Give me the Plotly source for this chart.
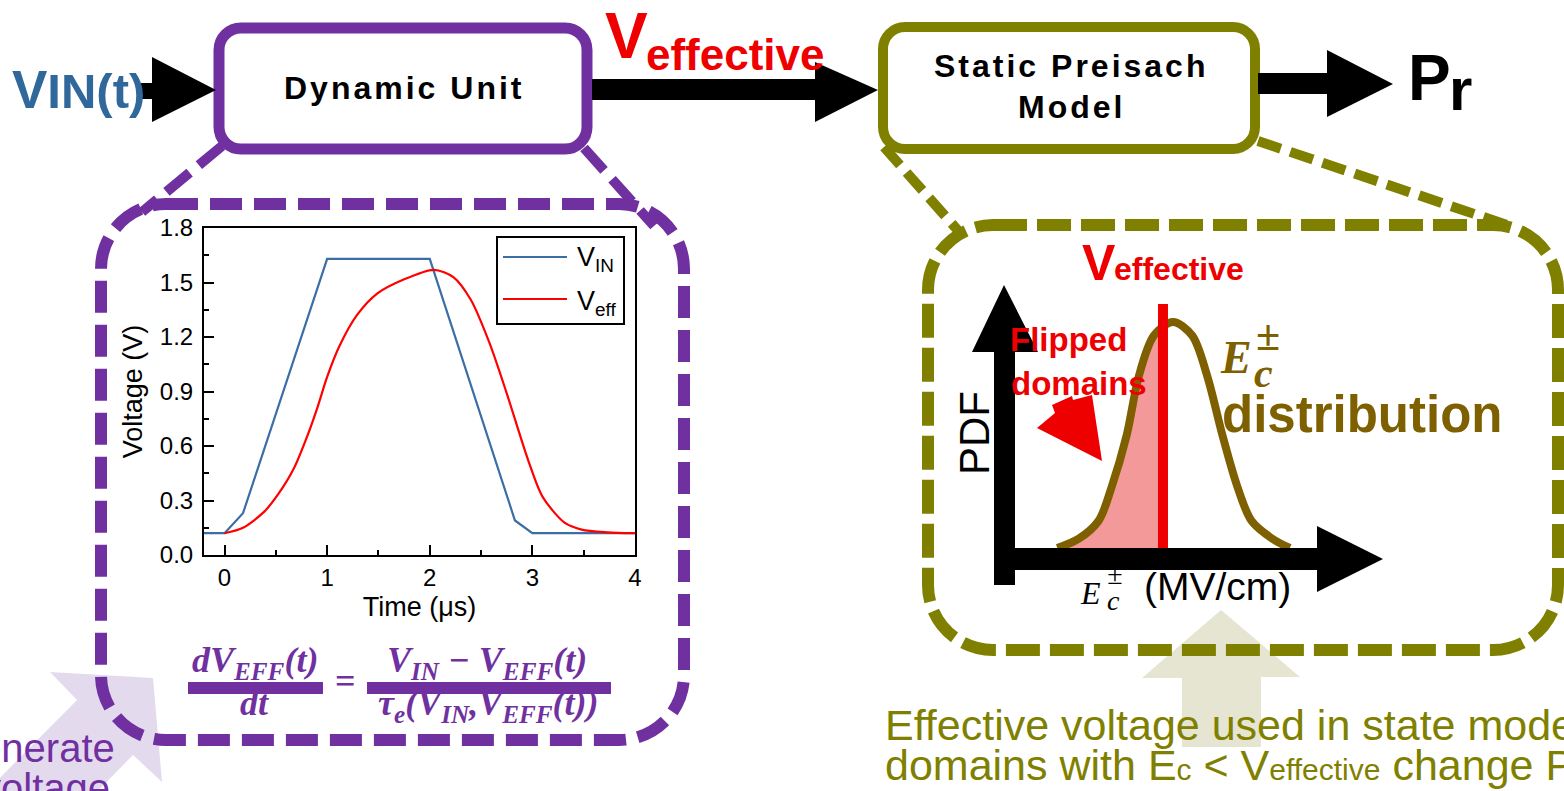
import plotly.graph_objects as go

W, H = 1564, 791

# ---- Dynamic unit inset: input pulse and effective voltage (time in us, volts)
vin_time = [-0.2, 0.0, 0.18, 1.0, 2.0, 2.83, 3.0, 4.0]
vin_volt = [0.12, 0.12, 0.23, 1.63, 1.63, 0.19, 0.12, 0.12]

veff_time = [0.0, 0.18, 0.39, 0.53, 0.67, 0.81, 0.91, 1.0, 1.12, 1.29, 1.49, 1.74,
             2.04, 2.23, 2.40, 2.58, 2.75, 2.96, 3.10, 3.31, 3.48, 3.73, 4.0]
veff_volt = [0.12, 0.15, 0.24, 0.34, 0.47, 0.66, 0.82, 0.98, 1.15, 1.32, 1.44, 1.515,
             1.57, 1.53, 1.405, 1.17, 0.89, 0.52, 0.32, 0.18, 0.14, 0.125, 0.12]

# ---- Static Preisach sketch: coercive-field distribution (arbitrary PDF units)
ec_field = [0.42, 0.63, 0.83, 0.96, 1.11, 1.23, 1.38, 1.57, 1.76, 1.91, 2.06, 2.21, 2.35, 2.56, 2.73]
ec_pdf = [0.0, 0.04, 0.12, 0.27, 0.50, 0.76, 0.94, 1.00, 0.94, 0.76, 0.50, 0.27, 0.12, 0.04, 0.0]
v_effective_field = 1.47      # position of the V_effective marker on the E axis
v_effective_pdf = 0.97        # distribution height where the marker cuts the curve
marker_span = [-0.045, 1.08]  # vertical extent of the marker line (PDF units)

PURPLE = "#7030A0"
OLIVE = "#808000"
BROWN = "#7F6000"
RED = "#EE0000"
VIN_BLUE = "#31689C"
SANS = "Liberation Sans, Arial, sans-serif"
SERIF = "Liberation Serif, Times New Roman, serif"


def rounded_rect(x0, y0, x1, y1, r):
    k = 0.5523 * r
    return (f"M {x0 + r},{y0} L {x1 - r},{y0} C {x1 - r + k},{y0} {x1},{y0 + r - k} {x1},{y0 + r} "
            f"L {x1},{y1 - r} C {x1},{y1 - r + k} {x1 - r + k},{y1} {x1 - r},{y1} "
            f"L {x0 + r},{y1} C {x0 + r - k},{y1} {x0},{y1 - r + k} {x0},{y1 - r} "
            f"L {x0},{y0 + r} C {x0},{y0 + r - k} {x0 + r - k},{y0} {x0 + r},{y0} Z")


def polygon(pts):
    return "M " + " L ".join(f"{x},{y}" for x, y in pts) + " Z"


shapes = []


def add_path(path, fill=None, color=None, width=0, dash="solid", xref="x", yref="y"):
    shapes.append(dict(type="path", path=path, xref=xref, yref=yref, layer="above",
                       fillcolor=fill or "rgba(0,0,0,0)",
                       line=dict(color=color or "rgba(0,0,0,0)", width=width, dash=dash)))


def add_line(x0, y0, x1, y1, color, width, dash="solid", xref="x", yref="y"):
    shapes.append(dict(type="line", x0=x0, y0=y0, x1=x1, y1=y1, xref=xref, yref=yref,
                       layer="above", line=dict(color=color, width=width, dash=dash)))


annotations = []


def label(s, x, y, size, color="black", family=SANS, weight="normal", style="normal",
          xanchor="left", angle=0):
    annotations.append(dict(text=s, x=x, y=y, xref="x", yref="y", showarrow=False,
                            xanchor=xanchor, yanchor="middle", textangle=angle,
                            borderpad=0, borderwidth=0,
                            font=dict(family=family, size=size, color=color,
                                      weight=weight, style=style)))


def mid(baseline, size, k=0.3465):
    return baseline - k * size


# ---- background call-out arrows
add_path(polygon([(153, 678), (50, 672), (77, 700), (-28, 806), (28, 862), (133, 755), (162, 782)]),
         fill="#E4DAEE")
add_path(polygon([(1221, 610), (1300, 677), (1261, 677), (1261, 747), (1182, 747), (1182, 678), (1142, 678)]),
         fill="#E5E5D2")

# ---- dashed zoom frames and their connectors
add_path(rounded_rect(101, 204, 684, 740, 65), color=PURPLE, width=12, dash="32px,12px")
add_line(222, 146, 142, 212, PURPLE, 10, "30px,12px")
add_line(584, 148, 654, 226, PURPLE, 10, "30px,12px")
add_path(rounded_rect(928, 225, 1558, 650, 65), color=OLIVE, width=12, dash="34px,10px")
add_line(884, 147, 962, 235, OLIVE, 10, "24px,10px")
add_line(1258, 141, 1510, 226, OLIVE, 10, "24px,10px")

# ---- block boxes
add_path(rounded_rect(219, 28, 587, 149, 22), color=PURPLE, width=11)
add_path(rounded_rect(883, 27, 1255, 149, 22), color=OLIVE, width=10)

# ---- flow arrows
add_path(polygon([(138, 83), (152, 83), (152, 57), (216, 90), (152, 122), (152, 99), (138, 99)]), fill="black")
add_path(polygon([(592, 79), (815, 79), (815, 62), (878, 90), (815, 122), (815, 100), (592, 100)]), fill="black")
add_path(polygon([(1258, 73), (1327, 73), (1327, 50), (1393, 84), (1327, 117), (1327, 94), (1258, 94)]), fill="black")

# ---- inset legend frame and keys
shapes.append(dict(type="rect", x0=497, y0=237, x1=624, y1=324, xref="x", yref="y", layer="above",
                   line=dict(color="black", width=2), fillcolor="white"))
add_line(503, 257, 567, 257, "#3A6EA5", 2.2)
add_line(503, 299, 567, 299, "#FF0000", 2.2)

# ---- fraction bars of the rate equation
shapes.append(dict(type="rect", x0=188, y0=682, x1=323, y1=694, xref="x", yref="y", layer="above",
                   line=dict(width=0), fillcolor=PURPLE))
shapes.append(dict(type="rect", x0=367, y0=682, x1=611, y1=694, xref="x", yref="y", layer="above",
                   line=dict(width=0), fillcolor=PURPLE))

# ---- PDF sketch axes (arrows)
add_path(polygon([(994, 585), (994, 352), (972, 352), (1004, 285), (1038, 352), (1015, 352), (1015, 585)]),
         fill="black")
add_path(polygon([(994, 548), (1317, 548), (1317, 526), (1383, 559), (1317, 592), (1317, 570), (994, 570)]),
         fill="black")

# V_effective marker on the distribution
shapes.append(dict(type="line", x0=v_effective_field, x1=v_effective_field,
                   y0=marker_span[0], y1=marker_span[1], xref="x3", yref="y3", layer="above",
                   line=dict(color=RED, width=10)))
# pointer toward the flipped region
add_path(polygon([(1037, 428), (1055, 413), (1052, 405), (1072, 396), (1073, 400), (1092, 395), (1102, 461)]),
         fill=RED)

# ---- texts
label("V<span style='font-size:49px'>IN(t)</span>", 12, mid(108, 53), 53, VIN_BLUE, weight="bold")
label("<span style='letter-spacing:3px'>Dynamic Unit</span>", 404, 88, 32, weight="bold", xanchor="center")
label("V", 605, mid(58, 64), 64, RED, weight="bold")
label("effective", 646, mid(70, 44), 44, RED, weight="bold")
label("<span style='letter-spacing:3px'>Static Preisach</span>", 1071, 65.5, 32, weight="bold", xanchor="center")
label("<span style='letter-spacing:3px'>Model</span>", 1071, 107, 32, weight="bold", xanchor="center")
label("P", 1408, mid(100, 64), 64, weight="bold")
label("r", 1449, mid(110, 60), 60, weight="bold")

# rate equation
eq = dict(family=SERIF, weight="bold", style="italic", color=PURPLE, xanchor="center")
label("dV<sub>EFF</sub>(t)", 255, 662.5, 36, **eq)
label("dt", 254, mid(715, 36, 0.3375), 36, **eq)
label("=", 345, 681, 36, PURPLE, SERIF, "bold", xanchor="center")
label("V<sub>IN</sub> \u2212 V<sub>EFF</sub>(t)", 487, 662.5, 36, **eq)
label("\u03c4<sub>e</sub>(V<sub>IN</sub>,V<sub>EFF</sub>(t))", 488, 705.5, 36, **eq)

label("Generate", 115, mid(762, 40), 40, PURPLE, xanchor="right")
label("voltage", 110, mid(802, 40), 40, PURPLE, xanchor="right")

# legend entries of the inset
label("V<sub>IN</sub>", 577, 259.3, 27)
label("V<sub>eff</sub>", 577, 302.6, 27)

# distribution sketch labels
label("V", 1082, mid(280, 50), 50, RED, weight="bold")
label("effective", 1114, mid(280, 32), 32, RED, weight="bold")
label("Flipped", 1010, mid(350.6, 33), 33, RED, weight="bold")
label("domains", 1011, mid(395, 33), 33, RED, weight="bold")
label("PDF", 974, 433, 42, angle=-90, xanchor="center")
label("E", 1220, mid(373, 46, 0.3375), 46, BROWN, SERIF, "bold", "italic")
label("\u00b1", 1268, 335, 44, BROWN, SERIF, "bold", xanchor="center")
label("c", 1263, 372.8, 42, BROWN, SERIF, "bold", "italic", xanchor="center")
label("distribution", 1222, mid(432, 51), 51, BROWN, weight="bold")
label("E", 1080, mid(604, 32, 0.3375), 32, family=SERIF, style="italic")
label("c", 1113, mid(610, 28, 0.3375), 28, family=SERIF, style="italic", xanchor="center")
label("(MV/cm)", 1144, mid(600, 39), 39)

# caption
label("Effective voltage used in state model", 885, mid(740, 43), 43, OLIVE)
label("domains with E<span style='font-size:30px'>c</span> &lt; "
      "V<span style='font-size:30px'>effective</span> change Pr", 885, mid(780, 43), 43, OLIVE)

fig = go.Figure()

# superscript of the axis symbol sits beneath the axis arrow
fig.add_trace(go.Scatter(x=[1115], y=[577], mode="text", text=["\u00b1"],
                         textfont=dict(family=SERIF, size=28, color="black"),
                         xaxis="x", yaxis="y", hoverinfo="skip", showlegend=False))

fig.add_trace(go.Scatter(x=vin_time, y=vin_volt, mode="lines", name="V<sub>IN</sub>",
                         line=dict(color="#3A6EA5", width=2.2), xaxis="x2", yaxis="y2",
                         showlegend=False))
fig.add_trace(go.Scatter(x=veff_time, y=veff_volt, mode="lines", name="V<sub>eff</sub>",
                         line=dict(color="#FF0000", width=2.2, shape="spline", smoothing=0.8),
                         xaxis="x2", yaxis="y2", showlegend=False))

flip_x = [e for e in ec_field if e < v_effective_field] + [v_effective_field]
flip_y = [p for e, p in zip(ec_field, ec_pdf) if e < v_effective_field] + [v_effective_pdf]
fig.add_trace(go.Scatter(x=flip_x, y=flip_y, mode="lines", fill="tozeroy",
                         fillcolor="#F49999", line=dict(width=0, shape="spline"),
                         xaxis="x3", yaxis="y3", hoverinfo="skip", showlegend=False))
fig.add_trace(go.Scatter(x=ec_field, y=ec_pdf, mode="lines",
                         line=dict(color=BROWN, width=8, shape="spline", smoothing=0.9),
                         xaxis="x3", yaxis="y3", showlegend=False))

hidden = dict(visible=False, showgrid=False, zeroline=False, fixedrange=True, automargin=False)
tickfont = dict(family=SANS, size=24, color="black")
fig.update_layout(
    width=W, height=H, margin=dict(l=0, r=0, t=0, b=0, pad=0, autoexpand=False),
    paper_bgcolor="white", plot_bgcolor="rgba(0,0,0,0)", showlegend=False,
    xaxis=dict(domain=[0, 1], range=[0, W], **hidden),
    yaxis=dict(domain=[0, 1], range=[H, 0], **hidden),
    xaxis2=dict(domain=[204 / W, 635 / W], range=[-0.2, 4], anchor="y2", automargin=False,
                showline=True, mirror=True, linecolor="black", linewidth=2,
                showgrid=False, zeroline=False, ticks="inside", ticklen=10, tickwidth=2,
                tickcolor="black", dtick=1, tick0=0, tickfont=tickfont, ticklabelstandoff=0,
                minor=dict(ticks="inside", ticklen=5, tickwidth=2, dtick=0.5, tick0=0,
                           tickcolor="black", showgrid=False),
                title=dict(text="Time (\u03bcs)", font=dict(family=SANS, size=27, color="black"),
                           standoff=7)),
    yaxis2=dict(domain=[(H - 555) / H, (H - 228) / H], range=[0, 1.8], anchor="x2", automargin=False,
                showline=True, mirror=True, linecolor="black", linewidth=2,
                showgrid=False, zeroline=False, ticks="inside", ticklen=10, tickwidth=2,
                tickcolor="black", dtick=0.3, tick0=0, tickformat=".1f", tickfont=tickfont,
                ticklabelstandoff=4,
                minor=dict(ticks="inside", ticklen=5, tickwidth=2, dtick=0.15, tick0=0,
                           tickcolor="black", showgrid=False),
                title=dict(text="Voltage (V)", font=dict(family=SANS, size=27, color="black"),
                           standoff=9)),
    xaxis3=dict(domain=[1015 / W, 1317 / W], range=[0, 3], anchor="y3", **hidden),
    yaxis3=dict(domain=[(H - 548) / H, (H - 276.8) / H], range=[0, 1.2], anchor="x3", **hidden),
    shapes=shapes,
    annotations=annotations,
)

fig.write_html("out.html")
